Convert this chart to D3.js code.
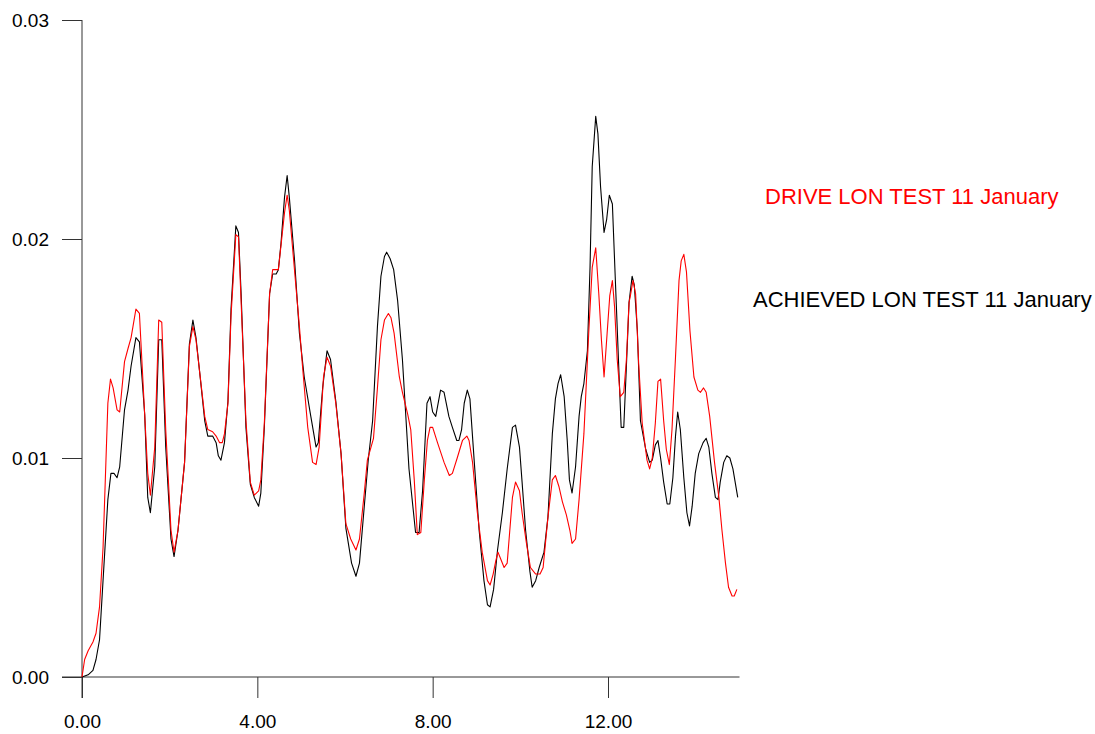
<!DOCTYPE html>
<html>
<head>
<meta charset="utf-8">
<script src="https://cdn.jsdelivr.net/npm/d3@7"></script>
<style>
  body { margin: 0; background: #fff; }
  text { font-family: "Liberation Sans", Arial, sans-serif; }
</style>
</head>
<body>
<svg id="chart" width="1095" height="734"></svg>
<script>
// values (time, longitudinal value)
var driveTime = [0,0.06,0.14,0.25,0.32,0.40,0.48,0.59,0.65,0.71,0.80,0.86,0.97,1.05,1.12,1.23,1.31,1.43,1.50,1.56,1.66,1.75,1.82,1.91,2.03,2.10,2.19,2.34,2.45,2.53,2.60,2.80,2.87,2.98,3.06,3.14,3.20,3.25,3.33,3.40,3.51,3.57,3.74,3.84,3.93,4.03,4.08,4.16,4.28,4.35,4.43,4.48,4.62,4.68,4.73,4.96,5.03,5.15,5.26,5.34,5.41,5.51,5.59,5.67,5.79,5.91,6.02,6.13,6.25,6.33,6.44,6.51,6.65,6.74,6.82,6.90,6.99,7.05,7.12,7.24,7.31,7.43,7.50,7.58,7.65,7.73,7.81,7.88,7.94,8.00,8.11,8.26,8.38,8.45,8.56,8.68,8.78,8.83,8.91,9.02,9.13,9.25,9.31,9.38,9.44,9.49,9.55,9.63,9.70,9.82,9.89,9.98,10.04,10.14,10.23,10.35,10.45,10.52,10.63,10.73,10.80,10.88,10.96,11.05,11.13,11.18,11.26,11.34,11.45,11.56,11.64,11.72,11.79,11.85,11.91,11.98,12.04,12.10,12.15,12.21,12.28,12.36,12.42,12.48,12.51,12.57,12.63,12.70,12.78,12.89,12.95,13.01,13.08,13.14,13.20,13.27,13.33,13.40,13.46,13.54,13.62,13.67,13.73,13.79,13.87,13.96,14.05,14.11,14.18,14.24,14.32,14.43,14.53,14.60,14.68,14.75,14.83,14.88,14.94];
var driveLon = [0,0.0008,0.0012,0.0016,0.0020,0.0032,0.0059,0.0125,0.0136,0.0132,0.0122,0.0121,0.0144,0.0150,0.0155,0.0168,0.0166,0.0120,0.0093,0.0083,0.0105,0.0163,0.0162,0.0113,0.0067,0.0057,0.0067,0.0098,0.0151,0.0160,0.0154,0.0119,0.0113,0.0112,0.0110,0.0107,0.0107,0.0111,0.0125,0.0165,0.0202,0.0201,0.0117,0.0089,0.0083,0.0085,0.0090,0.0116,0.0175,0.0186,0.0186,0.0186,0.0212,0.0220,0.0213,0.0160,0.0142,0.0114,0.0098,0.0097,0.0105,0.0137,0.0146,0.0142,0.0125,0.0102,0.0070,0.0063,0.0058,0.0063,0.0084,0.0099,0.0109,0.0132,0.0154,0.0163,0.0166,0.0164,0.0157,0.0137,0.0130,0.0120,0.0113,0.0090,0.0065,0.0066,0.0090,0.0108,0.0114,0.0114,0.0107,0.0098,0.0092,0.0093,0.0100,0.0108,0.0110,0.0108,0.0098,0.0075,0.0057,0.0044,0.0042,0.0047,0.0053,0.0057,0.0054,0.0050,0.0052,0.0082,0.0089,0.0085,0.0075,0.0061,0.0050,0.0047,0.0047,0.0050,0.0073,0.0090,0.0092,0.0087,0.0080,0.0074,0.0067,0.0061,0.0063,0.0081,0.0111,0.0157,0.0187,0.0196,0.0175,0.0154,0.0137,0.0157,0.0174,0.0181,0.0169,0.0145,0.0128,0.0130,0.0145,0.0171,0.0174,0.0181,0.0175,0.0143,0.0116,0.0099,0.0095,0.0100,0.0116,0.0135,0.0136,0.0117,0.0104,0.0097,0.0113,0.0146,0.0181,0.0190,0.0193,0.0185,0.0158,0.0137,0.0131,0.0130,0.0132,0.0130,0.0119,0.0098,0.0082,0.0067,0.0052,0.0041,0.0037,0.0037,0.0040];

var achievedTime = [0,0.14,0.25,0.32,0.40,0.48,0.59,0.66,0.73,0.80,0.86,0.97,1.05,1.12,1.23,1.31,1.43,1.50,1.56,1.66,1.75,1.82,1.91,2.03,2.10,2.19,2.34,2.45,2.53,2.60,2.68,2.80,2.87,2.98,3.06,3.11,3.17,3.25,3.33,3.40,3.51,3.57,3.63,3.74,3.84,3.93,4.03,4.08,4.16,4.28,4.35,4.43,4.48,4.54,4.62,4.68,4.73,4.85,4.96,5.07,5.22,5.34,5.39,5.49,5.59,5.67,5.79,5.91,6.02,6.15,6.25,6.33,6.44,6.53,6.63,6.74,6.82,6.90,6.95,7.03,7.11,7.20,7.31,7.46,7.61,7.69,7.77,7.87,7.94,8.00,8.07,8.18,8.26,8.37,8.45,8.55,8.60,8.66,8.72,8.79,8.85,8.95,9.06,9.17,9.25,9.31,9.39,9.48,9.59,9.70,9.82,9.89,9.98,10.04,10.12,10.22,10.27,10.35,10.43,10.54,10.63,10.73,10.80,10.86,10.92,11.00,11.07,11.12,11.18,11.26,11.34,11.39,11.45,11.53,11.59,11.64,11.72,11.77,11.83,11.91,11.97,12.03,12.10,12.17,12.25,12.30,12.36,12.42,12.48,12.55,12.60,12.67,12.74,12.86,12.95,13.01,13.08,13.14,13.20,13.27,13.35,13.41,13.48,13.54,13.59,13.65,13.73,13.80,13.86,13.92,13.99,14.07,14.17,14.24,14.30,14.37,14.45,14.51,14.56,14.64,14.71,14.78,14.85,14.96];
var achievedLon = [0,0.0001,0.0003,0.0008,0.0017,0.0044,0.0081,0.0093,0.0093,0.0091,0.0096,0.0122,0.0131,0.0142,0.0155,0.0153,0.0120,0.0082,0.0075,0.0096,0.0154,0.0154,0.0105,0.0063,0.0055,0.0067,0.0098,0.0152,0.0163,0.0155,0.0140,0.0117,0.0110,0.0110,0.0107,0.0101,0.0099,0.0107,0.0126,0.0168,0.0206,0.0203,0.0175,0.0114,0.0088,0.0082,0.0078,0.0084,0.0114,0.0175,0.0184,0.0184,0.0186,0.0198,0.0219,0.0229,0.0219,0.0190,0.0157,0.0137,0.0119,0.0105,0.0107,0.0132,0.0149,0.0145,0.0126,0.0102,0.0068,0.0052,0.0046,0.0052,0.0078,0.0099,0.0117,0.0160,0.0183,0.0192,0.0194,0.0191,0.0186,0.0172,0.0145,0.0095,0.0066,0.0066,0.0085,0.0125,0.0128,0.0121,0.0119,0.0131,0.0130,0.0119,0.0114,0.0108,0.0108,0.0113,0.0125,0.0131,0.0127,0.0098,0.0067,0.0044,0.0033,0.0032,0.0040,0.0058,0.0075,0.0095,0.0114,0.0115,0.0105,0.0089,0.0067,0.0048,0.0041,0.0044,0.0050,0.0057,0.0073,0.0111,0.0127,0.0134,0.0138,0.0128,0.0108,0.0090,0.0084,0.0096,0.0119,0.0128,0.0134,0.0149,0.0187,0.0233,0.0256,0.0248,0.0224,0.0203,0.0209,0.0220,0.0216,0.0180,0.0139,0.0114,0.0114,0.0142,0.0171,0.0183,0.0179,0.0158,0.0117,0.0104,0.0098,0.0099,0.0106,0.0108,0.0100,0.0089,0.0079,0.0079,0.0091,0.0110,0.0121,0.0113,0.0091,0.0075,0.0069,0.0078,0.0093,0.0102,0.0107,0.0109,0.0105,0.0093,0.0082,0.0081,0.0089,0.0098,0.0101,0.0100,0.0095,0.0082];

var xMajorTicks = [0, 4, 8, 12];
var xMinorTicks = [2, 6, 10, 14];
var yMajorTicks = [0, 0.01, 0.02, 0.03];
var yMinorTicks = [0.005, 0.015, 0.025];
var legendLabels = ["DRIVE LON TEST 11 January", "ACHIEVED LON TEST 11 January"];

var svg = d3.select("#chart");
var x = d3.scaleLinear().domain([0, 15]).range([82, 739.5]);
var y = d3.scaleLinear().domain([0, 0.03]).range([677, 20]);

var axisColor = "#333";

// x axis: minor ticks first, then majors with labels
var gx = svg.append("g").attr("transform", "translate(0,677)");
gx.call(d3.axisBottom(x).tickValues(xMinorTicks).tickSize(10).tickFormat(""));
gx.call(d3.axisBottom(x).tickValues(xMajorTicks).tickSize(21).tickPadding(17).tickFormat(d3.format(".2f")));
gx.select(".domain").attr("d", "M62,0H739.5");

var gy = svg.append("g").attr("transform", "translate(82,0)");
gy.call(d3.axisLeft(y).tickValues(yMinorTicks).tickSize(10).tickFormat(""));
gy.call(d3.axisLeft(y).tickValues(yMajorTicks).tickSize(20).tickPadding(13).tickFormat(d3.format(".2f")));
gy.select(".domain").attr("d", "M0,20V698");

svg.selectAll(".domain").attr("stroke", axisColor);
svg.selectAll(".tick line").attr("stroke", axisColor);
svg.selectAll(".tick text").attr("fill", "#000").style("font-size", "19px")
  .style("font-family", "'Liberation Sans', Arial, sans-serif");

var line = d3.line().x(function(d) { return x(d[0]); }).y(function(d) { return y(d[1]); });

var series = [
  { name: "achieved", color: "#000000", pts: d3.zip(achievedTime, achievedLon) },
  { name: "drive", color: "#ff0000", pts: d3.zip(driveTime, driveLon) }
];

svg.selectAll(".series").data(series).enter().append("path")
  .attr("class", "series")
  .attr("d", function(s) { return line(s.pts); })
  .attr("fill", "none")
  .attr("stroke", function(s) { return s.color; })
  .attr("stroke-width", 1.1)
  .attr("stroke-linejoin", "round");

// legend text to the right of the plot
svg.append("text").attr("x", 765).attr("y", 204).attr("fill", "#ff0000")
  .style("font-size", "22px").text(legendLabels[0]);
svg.append("text").attr("x", 753).attr("y", 307).attr("fill", "#000")
  .style("font-size", "22px").text(legendLabels[1]);
</script>
</body>
</html>
